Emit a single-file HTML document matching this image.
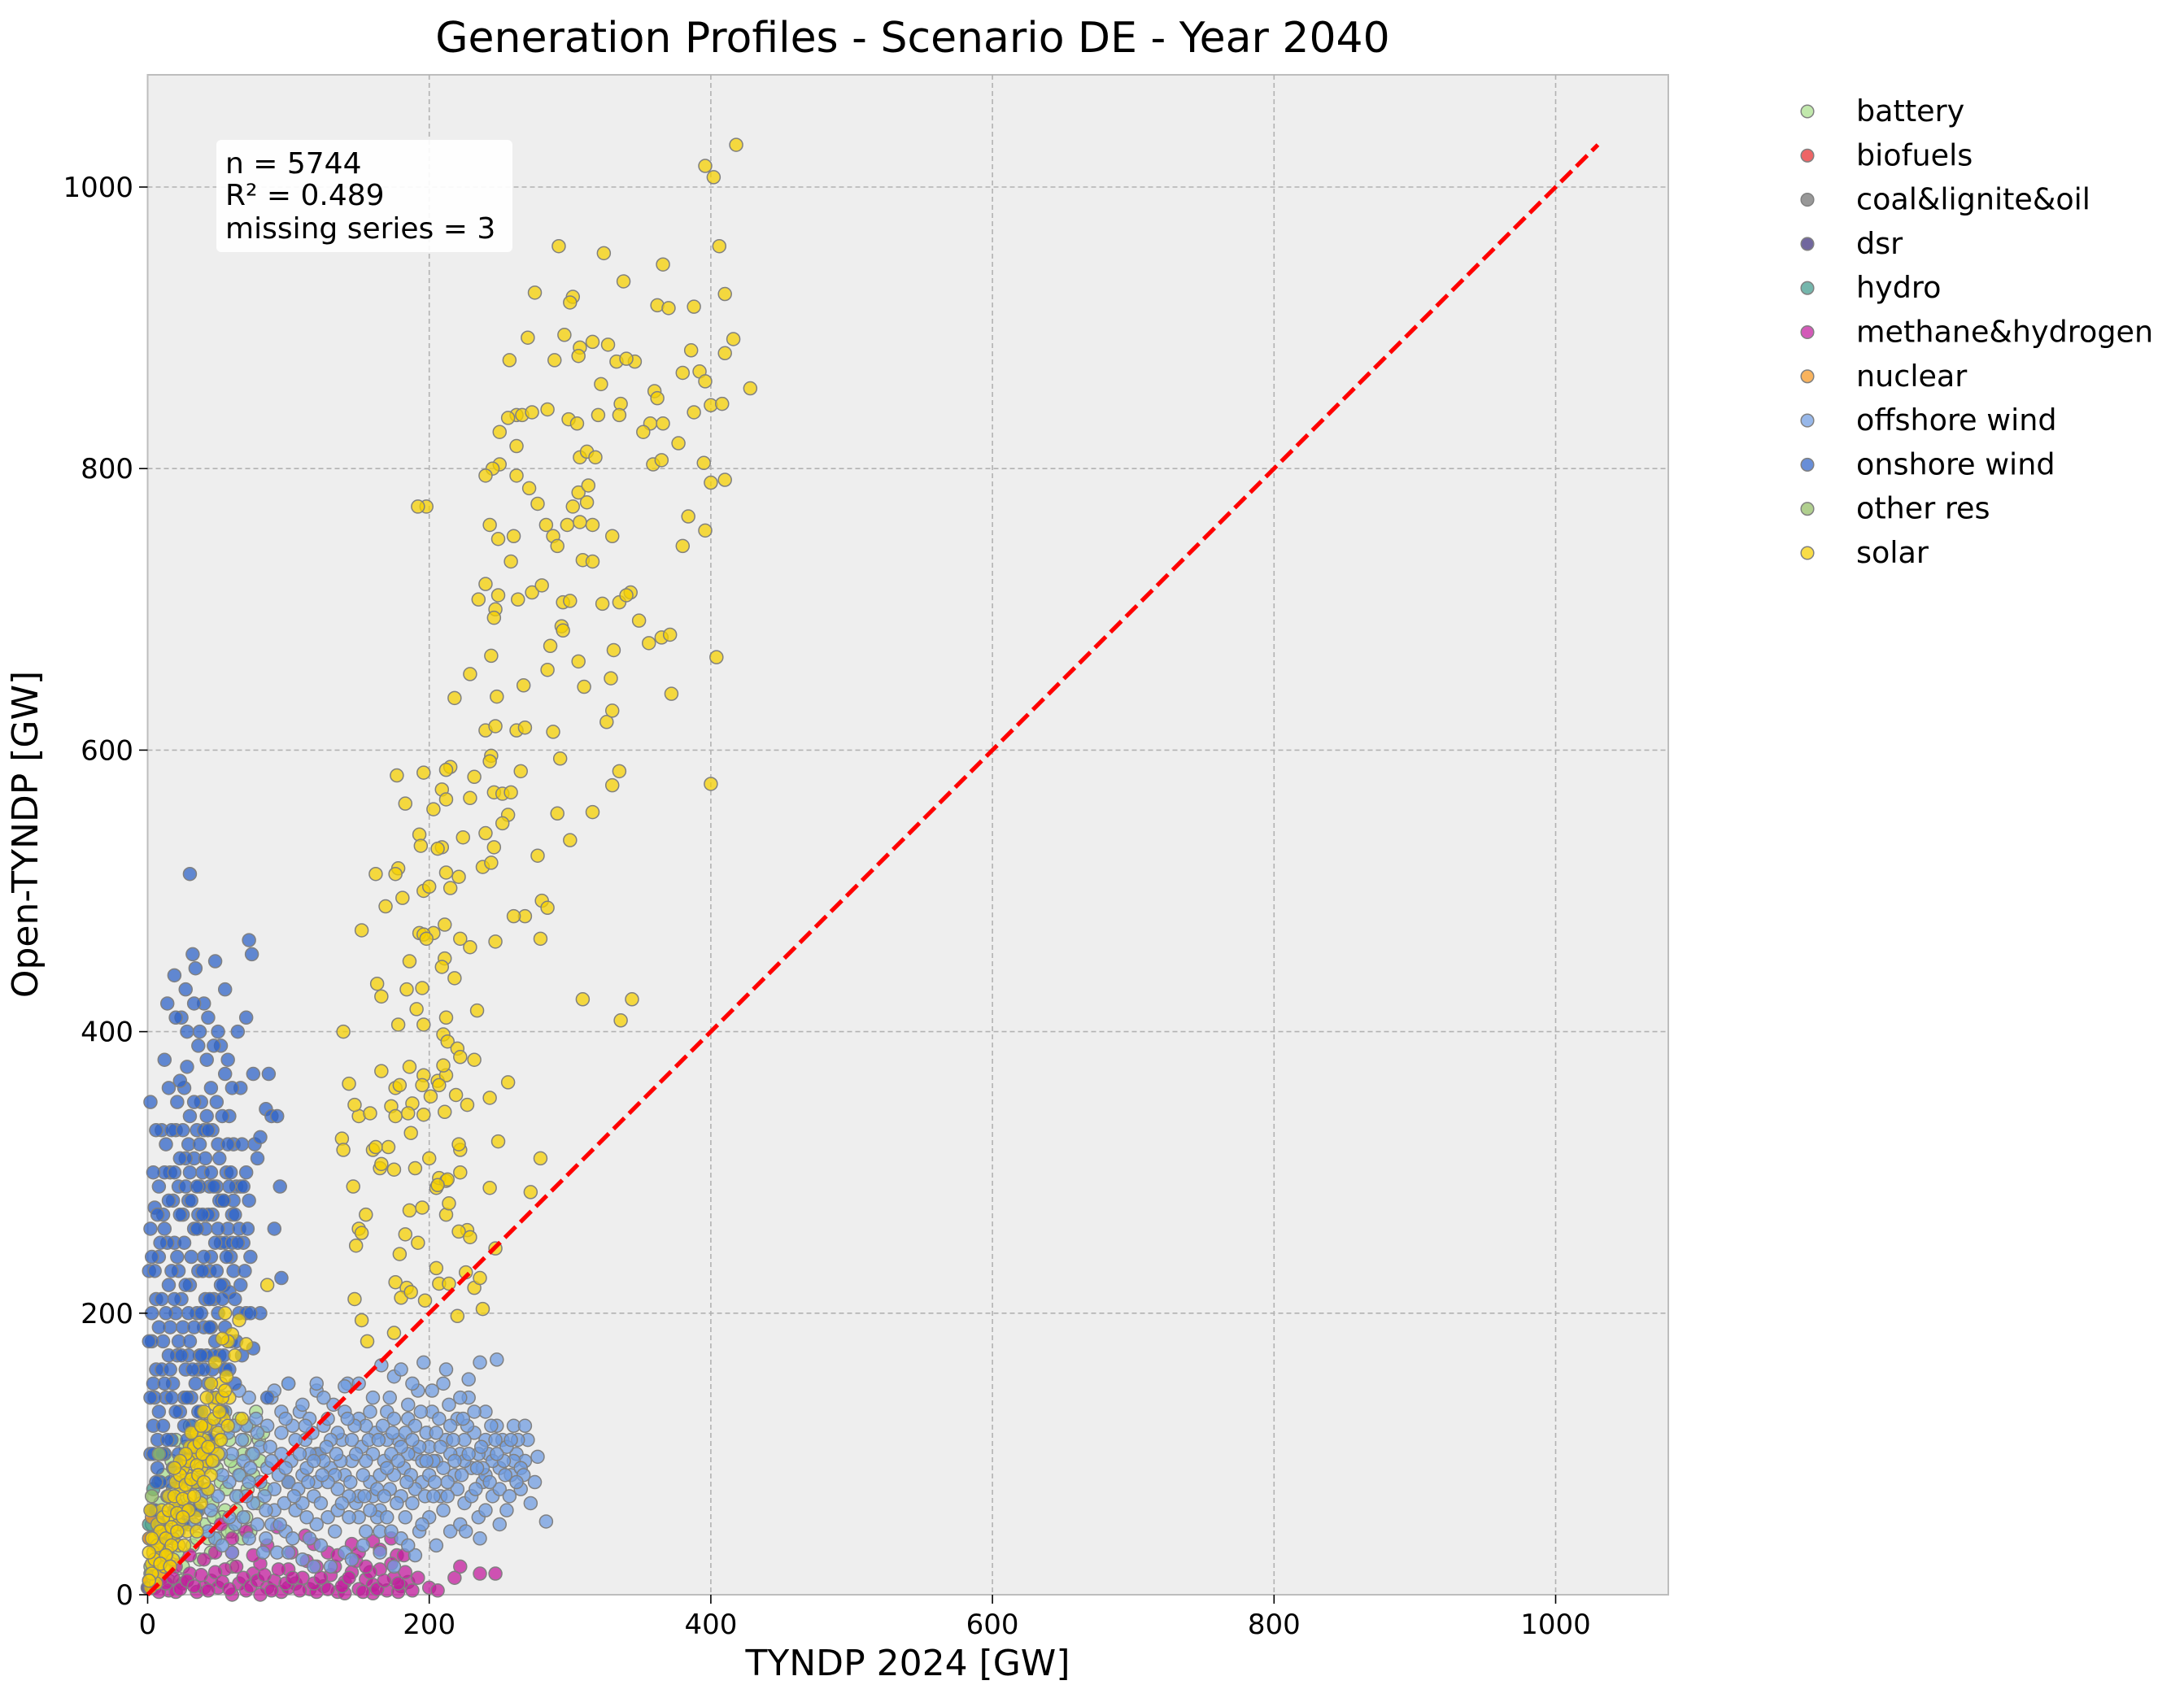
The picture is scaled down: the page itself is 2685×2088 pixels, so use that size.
<!DOCTYPE html>
<html><head><meta charset="utf-8">
<style>
html,body{margin:0;padding:0;background:#fff;}
svg{display:block;font-family:"DejaVu Sans","Liberation Sans",sans-serif;}
</style></head>
<body>
<svg id="chart" width="2685" height="2088" viewBox="0 0 2685 2088" xmlns="http://www.w3.org/2000/svg">
<rect width="2685" height="2088" fill="#fff"/>
<text x="1122" y="64" font-size="52" text-anchor="middle">Generation Profiles - Scenario DE - Year 2040</text>
<rect x="181.5" y="92" width="1869.5" height="1869" fill="#eeeeee" stroke="#bdbdbd" stroke-width="2"/>
<g id="grid"></g>
<g id="points"></g>
<g id="axes"></g>
<g>
<rect x="266" y="172" width="364" height="138" rx="6" fill="#fff" opacity="0.9"/>
<text x="277" y="213" font-size="36">n = 5744</text>
<text x="277" y="252" font-size="36">R² = 0.489</text>
<text x="277" y="293" font-size="36">missing series = 3</text>
</g>
<text x="1116" y="2060" font-size="44" text-anchor="middle">TYNDP 2024 [GW]</text>
<text x="46" y="1026" font-size="44" text-anchor="middle" transform="rotate(-90 46 1026)">Open-TYNDP [GW]</text>
<g id="legend"></g>
</svg>
<script>
const xTicks=[0,200,400,600,800,1000];
const yTicks=[0,200,400,600,800,1000];
const seriesNames=["battery","biofuels","coal&lignite&oil","dsr","hydro","methane&hydrogen","nuclear","offshore wind","onshore wind","other res","solar"];
const seriesColors=["#a9df8c","#e8292b","#707070","#3a2d78","#3f9a8c","#c21a9c","#f7951e","#6f9be0","#2e63c7","#92bd62","#f6d000"];
const battery=[[2,40],[5,60],[8,80],[10,30],[12,100],[15,55],[18,75],[20,110],[22,45],[25,90],[28,65],[30,120],[32,35],[35,85],[38,105],[40,50],[42,70],[45,95],[48,125],[50,40],[52,80],[55,60],[58,110],[60,45],[62,90],[65,70],[68,100],[70,55],[72,120],[75,85],[78,65],[55,130],[65,125],[45,30],[35,40],[25,20],[15,10],[80,95],[60,20],
[3,50],[6,35],[9,65],[11,85],[14,45],[17,95],[19,60],[21,30],[24,70],[27,105],[29,50],[31,80],[33,100],[36,60],[39,75],[41,115],[43,40],[46,65],[49,90],[51,110],[53,55],[56,75],[59,95],[61,120],[63,60],[66,85],[69,110],[71,75],[74,100],[77,130],[79,110],[57,45],[47,55],[37,25],[23,10],[13,25],[67,40],[73,45],[82,115],[84,75]];
const biofuels=[[1,10]];
const coal=[[100,80],[120,100],[3,5]];
const dsr=[[0,5]];
const hydro=[[2,15],[4,75],[1,50]];
const methane=[[5,5],[10,12],[15,3],[20,20],[25,8],[30,15],[35,2],[40,25],[45,10],[50,5],[55,18],[60,30],[65,8],[70,3],[75,15],[80,22],[85,5],[90,10],[95,2],[100,18],[105,8],[110,12],[115,4],[120,20],[125,6],[130,14],[135,2],[140,9],[145,16],[150,4],[155,11],[160,7],[165,18],[170,3],[175,12],[180,6],[185,9],[145,36],[160,38],[128,30],[112,42],[92,48],[70,45],[60,40],[52,50],[200,5],[206,3],[218,12],[222,20],[236,15],[247,15],[177,28],[182,28],[100,5],[80,0],[60,0],[40,5],[20,2],[120,2],[140,1],[160,1],[178,2],
[8,2],[13,8],[18,12],[23,4],[28,10],[33,6],[38,14],[43,3],[48,16],[53,9],[58,4],[63,20],[68,12],[73,6],[78,10],[83,14],[88,3],[93,18],[98,8],[103,12],[108,3],[113,24],[118,8],[123,12],[128,4],[133,20],[138,6],[143,12],[148,24],[153,2],[158,16],[163,4],[168,10],[173,22],[178,8],[183,16],[188,3],[165,32],[150,30],[135,28],[118,36],[102,30],[85,35],[75,28],[48,30],[30,28],[192,12],[173,40],[155,20]];
const nuclear=[[1,40],[3,55]];
const offshore=[[30,60],[40,90],[45,110],[50,70],[55,130],[60,100],[62,50],[65,85],[70,120],[72,140],[75,65],[80,105],[82,30],[85,90],[88,140],[90,75],[95,115],[98,45],[100,150],[102,95],[105,60],[108,130],[110,85],[112,110],[115,40],[118,70],[120,145],[122,100],[125,120],[128,55],[130,90],[132,135],[135,75],[138,110],[140,30],[142,150],[145,95],[148,65],[150,125],[152,105],[155,45],[158,80],[160,140],[162,115],[165,60],[168,95],[170,130],[172,75],[175,155],[178,110],[180,40],[182,90],[185,125],[188,65],[190,100],[192,145],[195,80],[198,115],[200,55],[202,130],[205,95],[208,70],[210,150],[212,110],[215,45],[218,85],[220,125],[222,100],[225,65],[228,140],[230,90],[232,115],[235,55],[238,80],[240,130],[242,100],[245,70],[248,120],[250,90],[252,110],[255,60],[258,85],[260,120],[262,100],[265,75],[268,95],[270,110],[275,80],[283,52],[248,167],[236,165],[228,153],[212,160],[196,165],[180,160],[166,163],[150,150],[140,148],[120,150],[100,150],[90,145],[65,145],[55,160],[45,60],[35,80],[48,40],[60,30],[78,50],[92,30],[110,25],[130,20],[145,25],[165,30],[175,20],[190,28],[205,35],[150,70],[140,85],[125,95],[115,100],[105,110],[95,100],[85,120],[75,100],[68,95],[58,80],[52,100],[115,125],[135,115],[160,100],[170,110],[185,100],[200,85],[215,120],[225,110],[240,110],[260,95],[255,105],[245,95],[235,100],[210,90],[195,95],[180,105],[165,85],[155,95],[145,110],[130,110],[120,80],[110,65],[100,80],[90,60],[80,80],[70,70],[160,70],[175,85],[190,75],[205,115],[220,75],[230,70],[250,75],[265,90],[272,65],[200,105],[185,135],[170,90],[155,120],[140,130],[125,140],[110,135],[95,130],[175,125],[190,120],[215,100],[225,95],[240,85],[180,70],[165,45],[150,55],[135,60],[120,50],[210,60],[222,50],[236,40],
[42,75],[47,95],[53,85],[57,115],[63,70],[67,110],[73,90],[77,125],[83,70],[87,105],[93,85],[97,65],[103,120],[107,75],[113,90],[117,115],[123,65],[127,105],[133,85],[137,95],[143,70],[147,120],[153,85],[157,110],[163,75],[167,120],[173,100],[177,65],[183,115],[187,85],[193,105],[197,70],[203,95],[207,125],[213,80],[217,110],[223,85],[227,120],[233,75],[237,105],[243,80],[247,110],[253,95],[257,70],[263,110],[267,85],[103,40],[113,55],[123,35],[133,45],[143,55],[153,35],[163,55],[173,45],[183,55],[193,45],[203,70],[213,70],[58,55],[68,55],[88,50],[78,115],[98,125],[108,100],[118,95],[128,80],[138,65],[148,100],[158,60],[168,70],[178,95],[188,110],[198,95],[208,105],[218,95],[228,100],[238,90],[248,100],[258,110],[232,130],[222,140],[202,145],[188,150],[172,140],[158,130],[142,125],[128,125],[112,120],[98,90],[88,95],[72,80],[62,120],[50,120],[38,70],[33,50],[43,45],[53,35],[72,40],[84,60],[94,50],[104,70],[114,80],[124,85],[134,100],[144,80],[154,70],[164,110],[174,115],[184,80],[194,130],[204,80],[214,135],[224,125],[234,90],[244,120],[254,85],[262,80],[268,120],[277,98],[240,60],[250,50],[226,45],[195,50],[185,35],[170,55],[118,20],[100,30],[84,40]];
const onshore=[[2,350],[5,275],[8,240],[3,200],[6,160],[4,120],[7,90],[3,60],[9,30],[12,380],[14,420],[16,300],[12,260],[15,220],[11,180],[13,140],[17,110],[14,70],[18,40],[20,330],[22,290],[19,250],[24,210],[21,170],[23,130],[25,95],[20,60],[26,360],[28,400],[30,512],[32,455],[34,445],[36,390],[30,340],[33,310],[29,280],[31,240],[35,200],[27,160],[32,120],[34,80],[38,350],[40,420],[42,380],[39,300],[41,260],[44,230],[40,190],[43,150],[45,110],[48,450],[50,400],[46,330],[49,290],[52,250],[47,210],[51,170],[53,130],[55,430],[57,380],[58,340],[56,300],[60,270],[54,220],[59,180],[62,150],[64,400],[66,360],[61,320],[63,290],[68,250],[65,200],[67,170],[72,465],[74,455],[70,410],[76,320],[78,310],[80,325],[84,345],[86,370],[88,340],[92,340],[94,290],[90,260],[80,200],[75,175],[85,140],[95,225],[10,330],[8,290],[6,210],[4,150],[2,100],[10,45],[16,190],[18,150],[22,230],[25,270],[27,310],[29,200],[33,260],[36,230],[37,170],[44,290],[46,270],[42,340],[50,320],[53,280],[55,250],[58,215],[38,130],[41,100],[24,410],[20,410],[15,360],[17,330],[12,300],[23,365],[28,375],[35,330],[45,360],[52,390],[60,360],[70,300],[72,280],[66,290],[73,240],[75,370],[40,330],[30,300],[36,270],[26,250],[18,280],[14,250],[10,210],[20,200],[30,220],[45,190],[50,200],[55,160],[62,210],[70,200],[12,100],[5,60],[7,20],[16,80],[25,50],[35,60],
[1,230],[3,180],[5,140],[7,110],[9,80],[2,260],[4,300],[6,330],[8,190],[10,160],[11,120],[13,200],[15,170],[17,140],[19,210],[21,240],[23,270],[25,190],[27,220],[29,170],[31,140],[33,190],[35,260],[37,290],[39,230],[41,210],[43,270],[45,240],[47,170],[49,230],[51,280],[53,210],[55,190],[57,260],[59,240],[61,230],[63,180],[65,260],[67,320],[69,230],[71,260],[73,200],[19,300],[21,350],[23,310],[25,330],[27,290],[29,320],[31,280],[33,350],[35,290],[37,320],[39,270],[41,310],[43,330],[45,300],[47,290],[49,350],[51,310],[53,340],[55,370],[57,320],[59,300],[61,280],[15,280],[13,320],[11,270],[9,250],[7,270],[5,230],[3,240],[17,230],[22,180],[26,140],[28,110],[30,180],[34,150],[36,160],[38,200],[40,240],[42,170],[44,190],[46,160],[48,250],[50,260],[52,220],[54,280],[56,240],[58,290],[60,250],[62,270],[64,250],[66,220],[68,290],[48,180],[44,210],[40,160],[36,130],[32,160],[28,140],[24,170],[20,130],[16,160],[12,150],[8,130],[4,100],[6,80],[10,100],[14,110],[18,90],[22,100],[26,120],[30,100],[34,110],[38,170],[42,120],[46,140],[50,140],[54,170],[58,160],[24,80],[28,60],[14,40],[8,50],[2,140],[1,180],[37,400],[43,410],[47,390],[33,420],[27,430],[19,440]];
const otherRes=[[3,70],[5,40],[8,100],[2,20]];
const solar=[[418,1030],[396,1015],[402,1007],[292,958],[324,953],[406,958],[366,945],[338,933],[275,925],[302,922],[300,918],[410,924],[362,916],[370,914],[388,915],[270,893],[296,895],[316,890],[327,888],[307,886],[257,877],[289,877],[306,880],[322,860],[333,876],[346,876],[340,878],[360,855],[362,850],[380,868],[386,884],[392,869],[396,862],[410,882],[416,892],[428,857],[400,845],[408,846],[262,838],[256,836],[250,826],[266,838],[273,840],[284,842],[299,835],[305,832],[320,838],[336,846],[335,838],[357,832],[366,832],[352,826],[377,818],[388,840],[359,803],[365,806],[250,803],[245,800],[240,795],[262,816],[262,795],[271,786],[277,775],[283,760],[288,752],[291,745],[298,760],[307,762],[312,776],[316,760],[302,773],[306,783],[313,788],[307,808],[312,812],[318,808],[395,804],[400,790],[410,792],[396,756],[380,745],[384,766],[198,773],[192,773],[243,760],[249,750],[260,752],[258,734],[240,718],[247,700],[235,707],[249,710],[263,707],[273,712],[280,717],[295,705],[300,706],[309,735],[316,734],[330,752],[323,704],[335,705],[343,712],[340,710],[365,680],[371,682],[349,692],[356,676],[294,688],[295,685],[286,674],[246,694],[244,667],[229,654],[218,637],[248,638],[267,646],[284,657],[306,663],[310,645],[329,651],[331,671],[404,666],[372,640],[240,614],[247,617],[262,614],[268,616],[288,613],[326,620],[330,628],[244,596],[243,592],[293,594],[335,585],[330,575],[215,588],[212,586],[209,572],[196,584],[177,582],[183,562],[203,558],[212,565],[229,566],[232,581],[246,570],[252,569],[258,570],[265,585],[256,554],[252,548],[291,555],[316,556],[400,576],[224,538],[240,541],[209,531],[206,530],[193,540],[194,532],[178,516],[176,512],[162,512],[169,489],[181,495],[196,500],[200,503],[215,502],[212,513],[221,510],[238,517],[244,520],[246,531],[300,536],[277,525],[280,493],[284,488],[268,482],[247,464],[229,460],[222,466],[211,452],[209,446],[211,476],[203,470],[193,470],[196,469],[198,466],[186,450],[184,430],[195,431],[152,472],[163,434],[166,425],[191,416],[178,405],[196,405],[212,410],[210,398],[213,393],[220,388],[222,382],[232,380],[234,415],[218,438],[309,423],[344,423],[336,408],[279,466],[139,400],[143,363],[150,340],[147,348],[158,342],[166,372],[173,347],[176,360],[179,362],[186,375],[196,369],[195,362],[201,354],[206,365],[212,369],[210,376],[207,362],[219,355],[211,343],[196,341],[188,349],[185,342],[176,340],[187,328],[171,318],[160,316],[165,303],[175,302],[190,303],[200,310],[205,289],[207,296],[212,294],[222,300],[222,316],[221,320],[227,348],[243,353],[256,364],[249,322],[243,289],[272,286],[279,310],[138,324],[139,316],[146,290],[148,248],[150,260],[152,257],[155,270],[162,318],[166,306],[186,273],[195,275],[183,256],[192,250],[179,242],[176,222],[184,218],[180,211],[187,215],[197,209],[207,221],[214,221],[220,198],[232,218],[236,225],[238,203],[152,195],[147,210],[156,180],[175,186],[247,246],[226,229],[212,270],[214,278],[227,259],[221,258],[205,232],[229,254],[260,482],[213,295],[206,291],
[2,5],[4,12],[6,20],[8,28],[10,35],[12,45],[14,30],[16,55],[18,40],[20,65],[22,50],[24,75],[26,60],[28,85],[30,70],[32,95],[34,80],[36,100],[38,90],[40,110],[42,95],[44,120],[46,105],[48,135],[50,115],[52,150],[54,125],[56,155],[45,150],[40,130],[35,115],[30,105],[25,90],[20,80],[15,70],[10,60],[5,40],[8,15],[12,20],[18,25],[22,35],[28,45],[34,55],[38,65],[43,75],[4,30],[7,50],[3,22],[60,185],[57,180],[53,182],[55,200],[48,165],[62,170],[65,195],[70,178],[85,220],[67,125],[58,140],[50,100],[45,85],[35,45],[2,60],[6,8],
[3,15],[5,25],[7,35],[9,45],[11,55],[13,40],[15,60],[17,48],[19,70],[21,58],[23,85],[25,68],[27,78],[29,95],[31,82],[33,105],[35,92],[37,108],[39,100],[41,120],[43,105],[47,125],[49,140],[51,130],[53,140],[55,145],[33,70],[29,60],[25,55],[21,45],[17,35],[13,28],[9,22],[31,115],[27,100],[23,95],[19,90],[42,140],[38,120],[36,85],[1,10],[1,30],[3,40],[16,20],[26,35],[40,80],[46,95],[57,120],[52,110]];
const seriesData=[battery,biofuels,coal,dsr,hydro,methane,nuclear,offshore,onshore,otherRes,solar];
const identityLine=[0,1030];

const NS="http://www.w3.org/2000/svg";
const X0=181.5,Y0=1961,K=1.731;
function sx(v){return X0+v*K;}
function sy(v){return Y0-v*K;}
function mk(tag,attrs,parent){const e=document.createElementNS(NS,tag);for(const k in attrs)e.setAttribute(k,attrs[k]);parent.appendChild(e);return e;}
const grid=document.getElementById('grid'),axes=document.getElementById('axes'),pts=document.getElementById('points'),leg=document.getElementById('legend');
xTicks.forEach(t=>{
  if(t>0){const g=mk('line',{x1:sx(t),x2:sx(t),y1:92,y2:1961,stroke:'#b2b2b2','stroke-width':1.6,'stroke-dasharray':'6,4'},grid);
  
  }
  const tk=mk('line',{x1:sx(t),x2:sx(t),y1:1961,y2:1972,stroke:'#000','stroke-width':1.6},axes);
  
  
  const lb=mk('text',{x:sx(t),y:2009,'font-size':34,'text-anchor':'middle'},axes);lb.textContent=t;
  
  
});
yTicks.forEach(t=>{
  if(t>0){const g=mk('line',{x1:181.5,x2:2051,y1:sy(t),y2:sy(t),stroke:'#b2b2b2','stroke-width':1.6,'stroke-dasharray':'6,4'},grid);
  
  }
  const tk=mk('line',{x1:171,x2:181.5,y1:sy(t),y2:sy(t),stroke:'#000','stroke-width':1.6},axes);
  
  
  const lb=mk('text',{x:164,y:sy(t)+12,'font-size':34,'text-anchor':'end'},axes);lb.textContent=t;
  
  
});
seriesData.forEach((arr,i)=>{
  const g=mk('g',{},pts);
  
  
  arr.forEach(p=>{
    const c=mk('circle',{cx:sx(p[0]),cy:sy(p[1]),r:8,fill:seriesColors[i],'fill-opacity':0.74,stroke:'#808080','stroke-width':1.5},g);
    
    
  });
});
const ln=mk('line',{x1:sx(identityLine[0]),y1:sy(identityLine[0]),x2:sx(identityLine[1]),y2:sy(identityLine[1]),stroke:'#ff0000','stroke-width':5.2,'stroke-dasharray':'19,8'},pts);


seriesNames.forEach((n,i)=>{
  const y=137+i*54.3;
  const g=mk('g',{},leg);
  
  
  mk('circle',{cx:2222,cy:y,r:7.8,fill:seriesColors[i],'fill-opacity':0.72,stroke:'#808080','stroke-width':1.5},g);
  const t=mk('text',{x:2282,y:y+12,'font-size':36.5},g);t.textContent=n;
});
</script>
</body></html>
